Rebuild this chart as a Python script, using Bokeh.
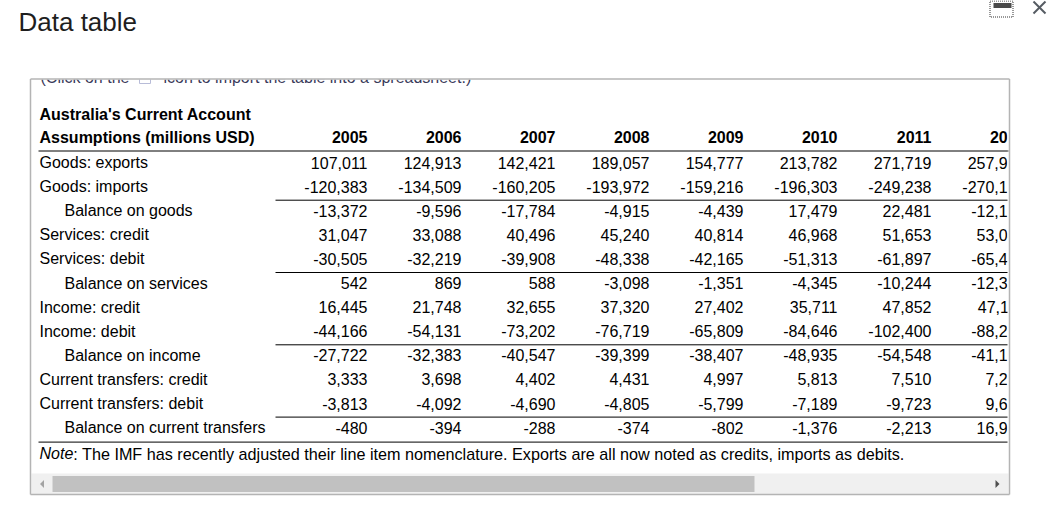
from bokeh.plotting import figure
from bokeh.models import Range1d, ColumnDataSource
from bokeh.core.properties import value
from bokeh.embed import file_html
from bokeh.resources import INLINE

# ---------------- data ----------------
title = "Data table"
caption_a = "(Click on the"
caption_b = "icon to import the table into a spreadsheet.)"
header_line1 = "Australia's Current Account"
header_line2 = "Assumptions (millions USD)"
years = ["2005", "2006", "2007", "2008", "2009", "2010", "2011", "2012"]

row_labels = [
    "Goods: exports", "Goods: imports", "Balance on goods",
    "Services: credit", "Services: debit", "Balance on services",
    "Income: credit", "Income: debit", "Balance on income",
    "Current transfers: credit", "Current transfers: debit",
    "Balance on current transfers",
]
row_indented = [False, False, True, False, False, True,
                False, False, True, False, False, True]

goods_exports = [107011, 124913, 142421, 189057, 154777, 213782, 271719, 257950]
goods_imports = [-120383, -134509, -160205, -193972, -159216, -196303, -249238, -270137]
balance_goods = [-13372, -9596, -17784, -4915, -4439, 17479, 22481, -12187]
services_credit = [31047, 33088, 40496, 45240, 40814, 46968, 51653, 53044]
services_debit = [-30505, -32219, -39908, -48338, -42165, -51313, -61897, -65424]
balance_services = [542, 869, 588, -3098, -1351, -4345, -10244, -12380]
income_credit = [16445, 21748, 32655, 37320, 27402, 35711, 47852, 47115]
income_debit = [-44166, -54131, -73202, -76719, -65809, -84646, -102400, -88218]
balance_income = [-27722, -32383, -40547, -39399, -38407, -48935, -54548, -41103]
transfers_credit = [3333, 3698, 4402, 4431, 4997, 5813, 7510, 7258]
transfers_debit = [-3813, -4092, -4690, -4805, -5799, -7189, -9723, 9612]
balance_transfers = [-480, -394, -288, -374, -802, -1376, -2213, 16970]

rows = [goods_exports, goods_imports, balance_goods, services_credit,
        services_debit, balance_services, income_credit, income_debit,
        balance_income, transfers_credit, transfers_debit, balance_transfers]

note_label = "Note"
note_text = ": The IMF has recently adjusted their line item nomenclature. Exports are all now noted as credits, imports as debits."

# ---------------- layout ----------------
FONT = value("Liberation Sans")
W, H = 1047, 530
p = figure(width=W, height=H, output_backend="svg", toolbar_location=None,
           x_range=Range1d(0, W), y_range=Range1d(H, 0),
           x_axis_type=None, y_axis_type=None, min_border=0,
           outline_line_color=None, background_fill_color="white",
           border_fill_color="white")
p.xgrid.visible = False
p.ygrid.visible = False

# renderer draws "alphabetic" text slightly low; compensate
def by(y, size):
    return y - 0.375 * size

box_l, box_r, box_t, box_b = 30, 1009, 78.5, 494
label_x, indent_x = 39, 64
col0_right, col_step = 367, 94
base0, pitch = 168, 24.1

# title
p.text(x=[18], y=[by(31.5, 26)], text=[title], text_font=FONT, text_font_size="26px",
       text_color="#1e1e1e", text_baseline="alphabetic")

# clipped caption above the scroll box
p.text(x=[40, 163], y=[by(82.5, 16)] * 2, text=[caption_a, caption_b],
       text_font=FONT, text_font_size="16px",
       text_color="#3a3a5a", text_baseline="alphabetic")
p.quad(left=[139], right=[150], top=[72], bottom=[83], fill_color="white",
       line_color="#b8bcd8", line_width=1)
p.quad(left=[box_l - 2], right=[box_r + 2], top=[45], bottom=[box_t + 0.5],
       fill_color="white", line_color=None)

# header
p.text(x=[label_x], y=[by(119.5, 16)], text=[header_line1], text_font=FONT,
       text_font_size="16px", text_font_style="bold", text_color="#000000",
       text_baseline="alphabetic")
p.text(x=[label_x], y=[by(142.5, 16)], text=[header_line2], text_font=FONT,
       text_font_size="16px", text_font_style="bold", text_color="#000000",
       text_baseline="alphabetic")
col_x = [col0_right + col_step * j for j in range(len(years))]
p.text(x=col_x, y=[by(142.5, 16)] * len(years), text=years, text_font=FONT,
       text_font_size="16px", text_font_style="bold", text_color="#000000",
       text_align="right", text_baseline="alphabetic")

# row labels
row_y = [base0 + pitch * i for i in range(len(row_labels))]
p.text(x=[indent_x if ind else label_x for ind in row_indented],
       y=[by(y, 16) for y in row_y],
       text=row_labels, text_font=FONT, text_font_size="16px",
       text_color="#000000", text_baseline="alphabetic")

# values
xs, ys, ts = [], [], []
for i, r in enumerate(rows):
    for j, v in enumerate(r):
        xs.append(col_x[j])
        ys.append(by(row_y[i], 16))
        ts.append(f"{v:,}")
src = ColumnDataSource(dict(x=xs, y=ys, t=ts))
p.text(x="x", y="y", text="t", source=src, text_font=FONT,
       text_font_size="16px", text_color="#000000", text_align="right",
       text_baseline="alphabetic")

# note
note_y = row_y[-1] + 26
p.text(x=[label_x], y=[by(note_y, 16)], text=[note_label], text_font=FONT,
       text_font_size="16px", text_font_style="italic", text_color="#000000",
       text_baseline="alphabetic")
p.text(x=[label_x + 33.8], y=[by(note_y, 16)], text=[note_text], text_font=FONT,
       text_font_size="16.2px", text_color="#000000", text_baseline="alphabetic")

# rules
rule_r = box_r - 1
p.segment(x0=[38], x1=[rule_r], y0=[base0 - 17.5], y1=[base0 - 17.5],
          line_color="black", line_width=1)
bal_rows = [i for i, ind in enumerate(row_indented) if ind]
p.segment(x0=[275] * len(bal_rows), x1=[rule_r] * len(bal_rows),
          y0=[row_y[i] - 16.5 for i in bal_rows],
          y1=[row_y[i] - 16.5 for i in bal_rows],
          line_color="black", line_width=1)
p.segment(x0=[38], x1=[rule_r], y0=[row_y[-1] + 8.5], y1=[row_y[-1] + 8.5],
          line_color="black", line_width=1)

# clip right side of the scroll box
p.quad(left=[box_r - 2], right=[W], top=[box_t], bottom=[box_b],
       fill_color="white", line_color=None)
p.segment(x0=[box_r - 2], x1=[rule_r], y0=[base0 - 17.5], y1=[base0 - 17.5],
          line_color="black", line_width=1)

# scrollbar
p.quad(left=[box_l + 1], right=[box_r - 1], top=[473], bottom=[493.5],
       fill_color="#f0f0f0", line_color=None)
p.quad(left=[52], right=[754], top=[475.5], bottom=[491.5],
       fill_color="#c1c1c1", line_color=None)
p.patch(x=[39.5, 43.5, 43.5], y=[483.5, 479.5, 487.5], fill_color="#a3a3a3",
        line_color=None)
p.patch(x=[999, 995, 995], y=[483.5, 479.5, 487.5], fill_color="#505050",
        line_color=None)

# scroll box border
p.segment(x0=[box_l, box_l, box_l, box_r], x1=[box_r, box_r, box_l, box_r],
          y0=[box_t, box_b, box_t, box_t], y1=[box_t, box_b, box_b, box_b],
          line_color="#b4b4b4", line_width=1.5)

# window icons
p.quad(left=[989.5], right=[1012.5], top=[0.5], bottom=[16.5], fill_color=None,
       line_color="#333333", line_width=1, line_dash="1 1")
p.quad(left=[993], right=[1011], top=[2.5], bottom=[7.5],
       fill_color="#4a4a4a", line_color=None)
p.segment(x0=[1033, 1033], x1=[1045, 1045], y0=[1, 13], y1=[13, 1],
          line_color="#555b62", line_width=2)

open("out.html", "w").write(file_html(p, INLINE))
